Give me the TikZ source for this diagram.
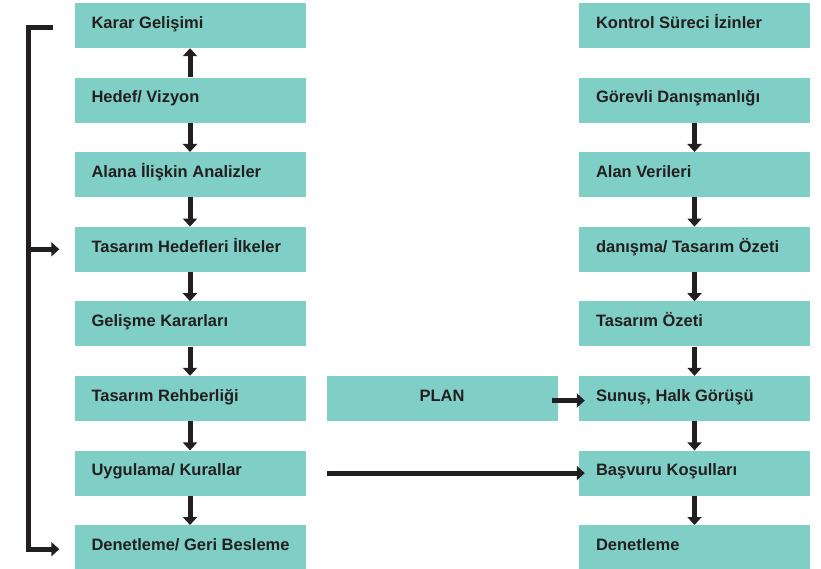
\documentclass[tikz,border=0pt]{standalone}
\usepackage{fontspec}
\setmainfont{Liberation Sans}
\usetikzlibrary{arrows.meta}
\definecolor{boxfill}{HTML}{80CFC6}
\definecolor{ink}{HTML}{231F20}

\begin{document}
\begin{tikzpicture}[x=1pt, y=-1pt, text=ink,
  font=\bfseries\fontsize{16.5}{18}\selectfont,
  every node/.style={text height=11.4pt, text depth=6pt, inner sep=0pt},
  cell/.style={fill=boxfill, minimum width=231pt, minimum height=45pt},
  txt/.style={anchor=west, xshift=17pt},
  link/.style={draw=ink, line width=5pt, -{Triangle[length=8pt,width=14pt]}}]
\useasboundingbox (0,0) rectangle (821,569);
% left column
\node[cell, label={[txt]west:{Karar Gelişimi}}] (L1) at (190,25.5) {};
\node[cell, label={[txt]west:{Hedef/ Vizyon}}] (L2) at (190,100.1) {};
\node[cell, label={[txt]west:{Alana İlişkin Analizler}}] (L3) at (190,174.7) {};
\node[cell, label={[txt]west:{Tasarım Hedefleri İlkeler}}] (L4) at (190,249.3) {};
\node[cell, label={[txt]west:{Gelişme Kararları}}] (L5) at (190,323.9) {};
\node[cell, label={[txt]west:{Tasarım Rehberliği}}] (L6) at (190,398.5) {};
\node[cell, label={[txt]west:{Uygulama/ Kurallar}}] (L7) at (190,473.1) {};
\node[cell, label={[txt]west:{Denetleme/ Geri Besleme}}] (L8) at (190,547.7) {};
% right column
\node[cell, label={[txt]west:{Kontrol Süreci İzinler}}] (R1) at (694.5,25.5) {};
\node[cell, label={[txt]west:{Görevli Danışmanlığı}}] (R2) at (694.5,100.1) {};
\node[cell, label={[txt]west:{Alan Verileri}}] (R3) at (694.5,174.7) {};
\node[cell, label={[txt]west:{danışma/ Tasarım Özeti}}] (R4) at (694.5,249.3) {};
\node[cell, label={[txt]west:{Tasarım Özeti}}] (R5) at (694.5,323.9) {};
\node[cell, label={[txt]west:{Sunuş, Halk Görüşü}}] (R6) at (694.5,398.5) {};
\node[cell, label={[txt]west:{Başvuru Koşulları}}] (R7) at (694.5,473.1) {};
\node[cell, label={[txt]west:{Denetleme}}] (R8) at (694.5,547.7) {};
% middle
\node[cell] (P1) at (442,398.5) {PLAN};
\coordinate (U1) at (327,473.1);
\coordinate (B1) at (53,27.5);
\coordinate (B2) at (28.5,27.5);
% arrows
\draw[link] (L2) -- (L1);
\draw[link] (L2) -- (L3);
\draw[link] (L3) -- (L4);
\draw[link] (L4) -- (L5);
\draw[link] (L5) -- (L6);
\draw[link] (L6) -- (L7);
\draw[link] (L7) -- (L8);
\draw[link] (R2) -- (R3);
\draw[link] (R3) -- (R4);
\draw[link] (R4) -- (R5);
\draw[link] (R5) -- (R6);
\draw[link] (R6) -- (R7);
\draw[link] (R7) -- (R8);
\draw[link] ([xshift=-6pt,yshift=-2pt]P1.east) -- ([xshift=6pt,yshift=-2pt]R6.west);
\draw[link] (U1) -- ([xshift=6pt]R7.west);
% bracket
\draw[link] (B1) -- (B2) |- ([xshift=-15pt,yshift=-1.5pt]L8.west);
\draw[link] (B2 |- L4.west) -- ([xshift=-15pt]L4.west);
\end{tikzpicture}
\end{document}
